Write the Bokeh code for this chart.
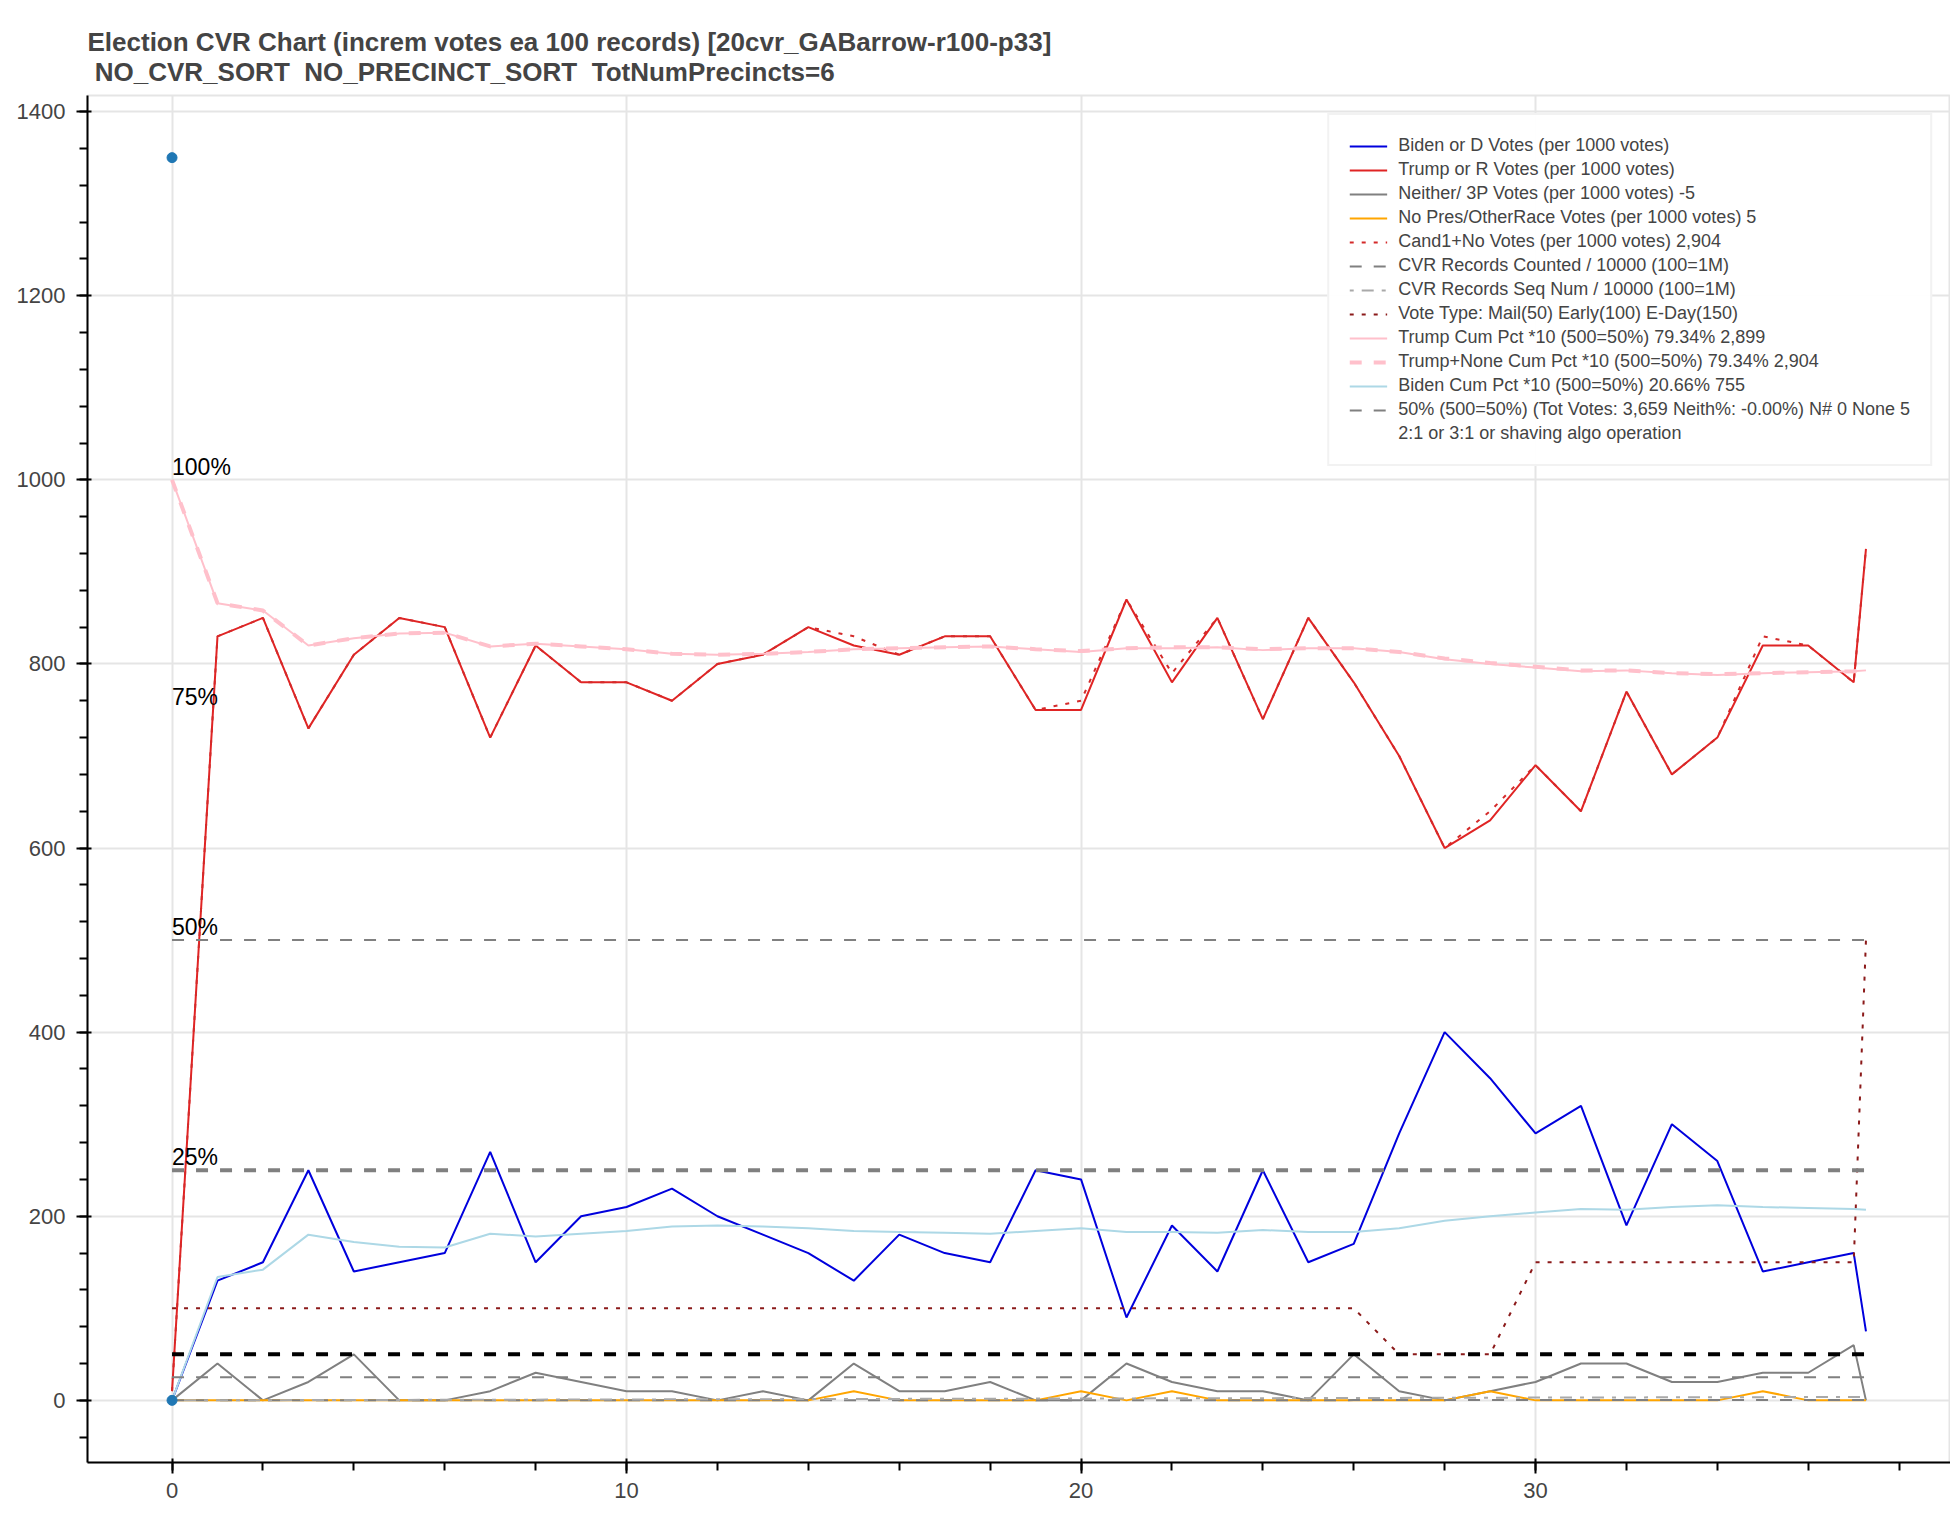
from bokeh.plotting import figure
from bokeh.models import Legend, LegendItem, SingleIntervalTicker, Range1d
from bokeh.embed import file_html
from bokeh.resources import INLINE

# ---------------- data ----------------
xs = [0, 1, 2, 3, 4, 5, 6, 7, 8, 9, 10, 11, 12, 13, 14, 15, 16, 17, 18, 19,
      20, 21, 22, 23, 24, 25, 26, 27, 28, 29, 30, 31, 32, 33, 34, 35, 36, 37, 37.27]

biden = [0, 130, 150, 250, 140, 150, 160, 270, 150, 200, 210, 230, 200, 180, 160, 130, 180, 160, 150, 250,
         240, 90, 190, 140, 250, 150, 170, 290, 400, 350, 290, 320, 190, 300, 260, 140, 150, 160, 75]
trump = [10, 830, 850, 730, 810, 850, 840, 720, 820, 780, 780, 760, 800, 810, 840, 820, 810, 830, 830, 750,
         750, 870, 780, 850, 740, 850, 780, 700, 600, 630, 690, 640, 770, 680, 720, 820, 820, 780, 925]
neither = [0, 40, 0, 20, 50, 0, 0, 10, 30, 20, 10, 10, 0, 10, 0, 40, 10, 10, 20, 0,
           0, 40, 20, 10, 10, 0, 50, 10, 0, 10, 20, 40, 40, 20, 20, 30, 30, 60, 0]
nopres = [0, 0, 0, 0, 0, 0, 0, 0, 0, 0, 0, 0, 0, 0, 0, 10, 0, 0, 0, 0,
          10, 0, 10, 0, 0, 0, 0, 0, 0, 10, 0, 0, 0, 0, 0, 10, 0, 0, 0]
cand1_no = [10, 830, 850, 730, 810, 850, 840, 720, 820, 780, 780, 760, 800, 810, 840, 830, 810, 830, 830, 750,
            760, 870, 790, 850, 740, 850, 780, 700, 600, 640, 690, 640, 770, 680, 720, 830, 820, 780, 925]
cvr_counted = [0.0, 0.01, 0.02, 0.03, 0.04, 0.05, 0.06, 0.07, 0.08, 0.09, 0.10, 0.11, 0.12, 0.13, 0.14, 0.15,
               0.16, 0.17, 0.18, 0.19, 0.20, 0.21, 0.22, 0.23, 0.24, 0.25, 0.26, 0.27, 0.28, 0.29, 0.30,
               0.31, 0.32, 0.33, 0.34, 0.35, 0.36, 0.37, 0.37]
cvr_seq = [0.0, 0.1, 0.2, 0.3, 0.4, 0.5, 0.6, 0.7, 0.8, 0.9, 1.0, 1.1, 1.2, 1.3, 1.4, 1.5, 1.6, 1.7, 1.8, 1.9,
           2.0, 2.1, 2.2, 2.3, 2.4, 2.5, 2.6, 2.7, 2.8, 2.9, 3.0, 3.1, 3.2, 3.3, 3.4, 3.5, 3.6, 3.7, 3.73]
vote_type = [100, 100, 100, 100, 100, 100, 100, 100, 100, 100, 100, 100, 100, 100, 100, 100, 100, 100, 100, 100,
             100, 100, 100, 100, 100, 100, 100, 50, 50, 50, 150, 150, 150, 150, 150, 150, 150, 150, 500]
trump_cum = [1000, 866, 858, 820, 828, 833, 834, 819, 822, 819, 816, 811, 810, 811, 813, 816, 817, 818, 819, 816,
             813, 817, 817, 818, 815, 817, 817, 813, 805, 800, 796, 792, 793, 790, 788, 790, 791, 792, 793]
trump_none_cum = [1000, 866, 858, 820, 828, 833, 834, 819, 822, 819, 816, 811, 810, 811, 813, 816, 817, 818, 819, 816,
                  814, 817, 818, 818, 816, 817, 817, 813, 806, 801, 797, 793, 793, 790, 789, 790, 791, 792, 793]
biden_cum = [0, 134, 142, 180, 172, 167, 166, 181, 178, 181, 184, 189, 190, 189, 187, 184, 183, 182, 181, 184,
             187, 183, 183, 182, 185, 183, 183, 187, 195, 200, 204, 208, 207, 210, 212, 210, 209, 208, 207]

guide_x = [xs[0], xs[-1]]
line50pct = [500, 500]
line25pct = [250, 250]
line50 = [50, 50]
line25 = [25, 25]

pct_labels = ["100%", "75%", "50%", "25%"]
pct_y = [1000, 750, 500, 250]

dot_x = [0, 0]
dot_y = [1350, 0]

labels = [
    "Biden or D Votes (per 1000 votes)",
    "Trump or R Votes (per 1000 votes)",
    "Neither/ 3P Votes (per 1000 votes) -5",
    "No Pres/OtherRace Votes (per 1000 votes) 5",
    "Cand1+No Votes (per 1000 votes) 2,904",
    "CVR Records Counted / 10000 (100=1M)",
    "CVR Records Seq Num / 10000 (100=1M)",
    "Vote Type: Mail(50) Early(100) E-Day(150)",
    "Trump Cum Pct *10 (500=50%) 79.34% 2,899",
    "Trump+None Cum Pct *10 (500=50%) 79.34% 2,904",
    "Biden Cum Pct *10 (500=50%) 20.66% 755",
    "50% (500=50%) (Tot Votes: 3,659 Neith%: -0.00%) N# 0 None 5",
    "2:1 or 3:1 or shaving algo operation",
]

title_text = ("Election CVR Chart (increm votes ea 100 records) [20cvr_GABarrow-r100-p33]\n"
              "\u00a0NO_CVR_SORT \u00a0NO_PRECINCT_SORT \u00a0TotNumPrecincts=6")

FONT = "Liberation Sans"

p = figure(width=1950, height=1512, output_backend="svg", toolbar_location=None,
           x_range=Range1d(-1.86, 39.13), y_range=Range1d(-67.5, 1417.5),
           min_border_left=87, min_border_right=0, min_border_top=95, min_border_bottom=50)

p.title.text = title_text
p.title.text_font = FONT
p.title.text_font_size = "26px"
p.title.text_font_style = "bold"
p.title.text_color = "#444444"
p.title.standoff = 18

p.outline_line_color = "#e5e5e5"
p.outline_line_width = 2

p.xaxis.ticker = SingleIntervalTicker(interval=10, num_minor_ticks=5)
p.yaxis.ticker = SingleIntervalTicker(interval=200, num_minor_ticks=5)
for ax in (p.xaxis, p.yaxis):
    ax.axis_line_width = 2
    ax.major_tick_line_width = 2
    ax.minor_tick_line_width = 2
    ax.major_tick_out = 11
    ax.major_tick_in = 4
    ax.minor_tick_out = 8
    ax.minor_tick_in = 0
    ax.major_label_text_font = FONT
    ax.major_label_text_font_size = "22px"
    ax.major_label_text_color = "#444444"
p.yaxis.major_label_standoff = 11
p.xaxis.major_label_standoff = 9
p.xgrid.grid_line_color = "#e5e5e5"
p.ygrid.grid_line_color = "#e5e5e5"
p.xgrid.grid_line_width = 2
p.ygrid.grid_line_width = 2

r_biden = p.line(xs, biden, line_color="#0000dd", line_width=2)
r_trump = p.line(xs, trump, line_color="#e02424", line_width=2)
r_neither = p.line(xs, neither, line_color="gray", line_width=2)
r_nopres = p.line(xs, nopres, line_color="orange", line_width=2)
r_cand1 = p.line(xs, cand1_no, line_color="#d42a2a", line_width=2, line_dash="4 8")
r_counted = p.line(xs, cvr_counted, line_color="gray", line_width=2, line_dash="12 12")
r_seq = p.line(xs, cvr_seq, line_color="darkgray", line_width=2, line_dash="4 8 12 8")
r_vtype = p.line(xs, vote_type, line_color="#8b1a1a", line_width=2, line_dash="4 8")
r_tcum = p.line(xs, trump_cum, line_color="pink", line_width=2)
r_tncum = p.line(xs, trump_none_cum, line_color="pink", line_width=4, line_dash="12 12")
r_bcum = p.line(xs, biden_cum, line_color="lightblue", line_width=2)
r_50 = p.line(guide_x, line50pct, line_color="gray", line_width=2, line_dash="12 12")
r_dummy = p.line(guide_x[:1], line50pct[:1], line_alpha=0)

p.line(guide_x, line25pct, line_color="gray", line_width=4, line_dash="12 12")
p.line(guide_x, line50, line_color="black", line_width=4, line_dash="12 12")
p.line(guide_x, line25, line_color="gray", line_width=2, line_dash="12 12")

p.scatter(dot_x, dot_y, size=10, color="#1f77b4")

p.text(x=[0] * len(pct_y), y=pct_y, text=pct_labels, text_font_size="23px",
       text_color="black", text_baseline="bottom", text_align="left")

renderers = [r_biden, r_trump, r_neither, r_nopres, r_cand1, r_counted, r_seq, r_vtype,
             r_tcum, r_tncum, r_bcum, r_50, r_dummy]
items = [LegendItem(label=lab, renderers=[r]) for lab, r in zip(labels, renderers)]
legend = Legend(items=items, location="top_right", margin=18, padding=20,
                spacing=3, glyph_width=38, glyph_height=20, label_height=20,
                label_standoff=11, label_text_font=FONT, label_text_font_size="18px",
                label_text_color="#444444", border_line_color="#e5e5e5", border_line_width=2,
                background_fill_alpha=0.95)
p.add_layout(legend)

open("out.html", "w").write(file_html(p, INLINE))
